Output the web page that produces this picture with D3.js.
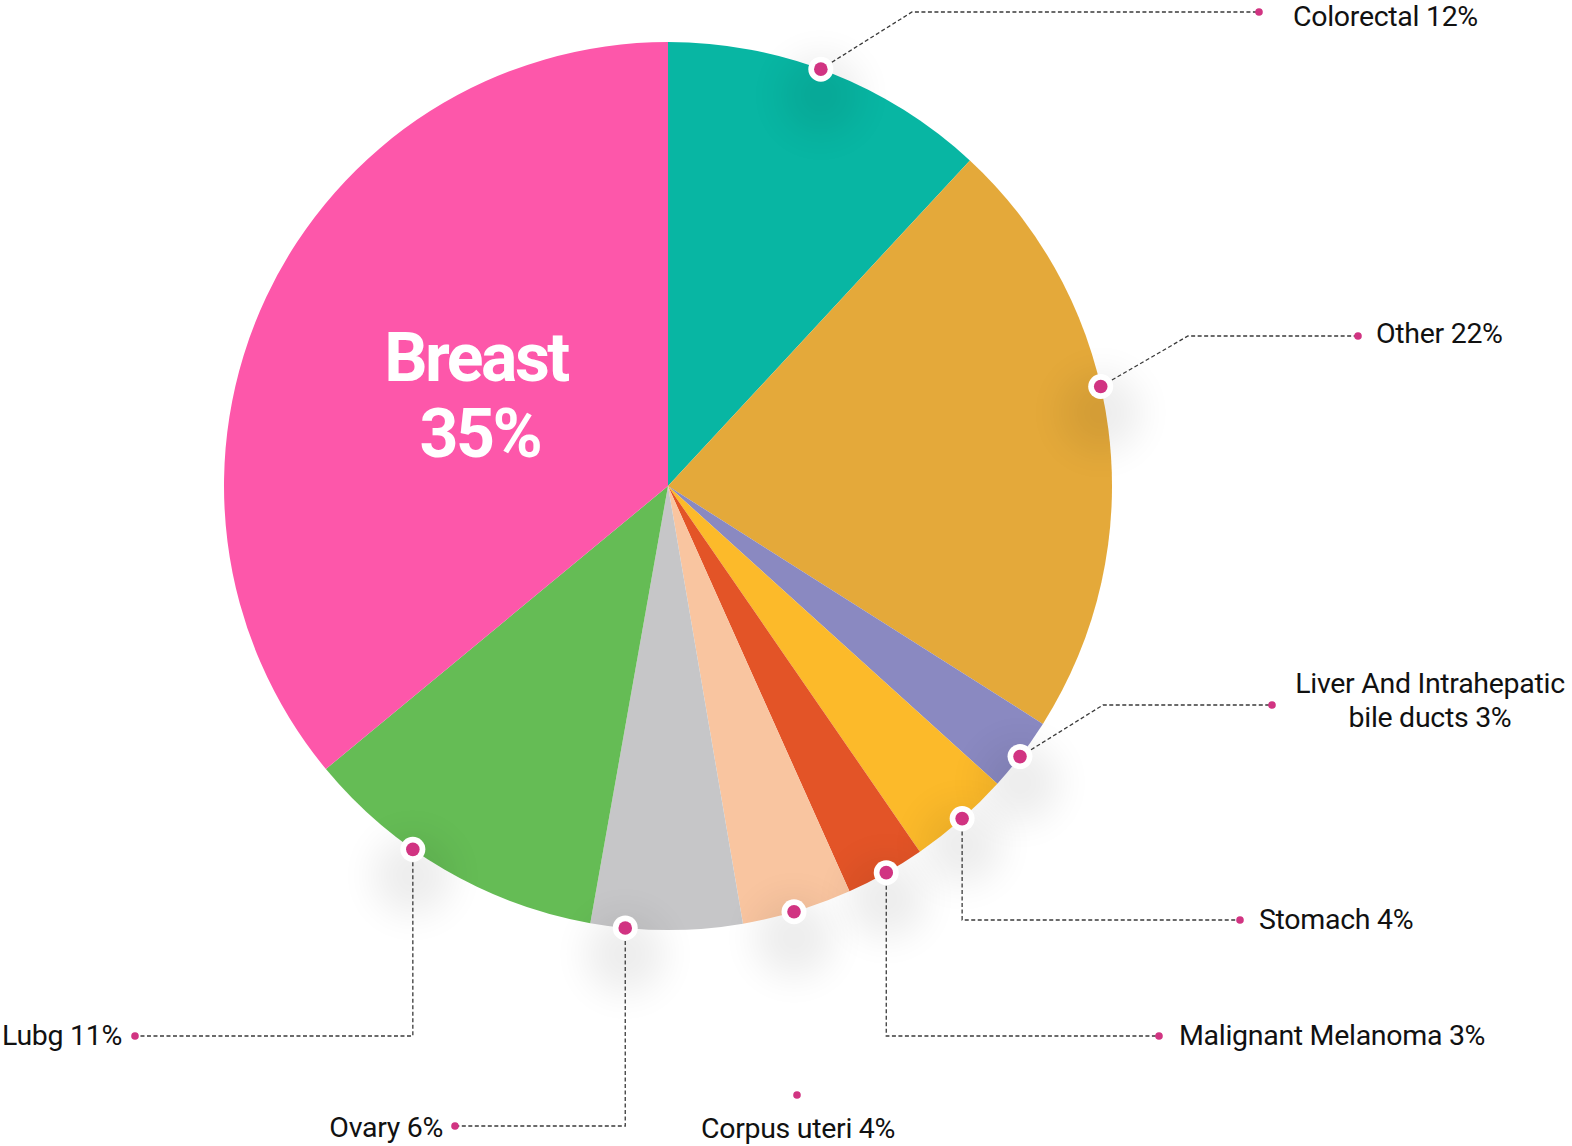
<!DOCTYPE html>
<html>
<head>
<meta charset="utf-8">
<script src="https://cdn.jsdelivr.net/npm/d3@7"></script>
<style>
  html, body { margin: 0; padding: 0; background: #ffffff; }
  svg { display: block; }
</style>
</head>
<body>
<svg id="chart" width="1572" height="1146"></svg>
<script>
// ---- data ----
const categories = ["Colorectal", "Other", "Liver And Intrahepatic bile ducts", "Stomach",
  "Malignant Melanoma", "Corpus uteri", "Ovary", "Lubg", "Breast"];
const shares = [11.9, 22.1, 2.7, 3.7, 2.9, 4.0, 5.5, 11.2, 36.0];
const percentLabels = ["12%", "22%", "3%", "4%", "3%", "4%", "6%", "11%", "35%"];
const labelLines = [
  ["Colorectal 12%"],
  ["Other 22%"],
  ["Liver And Intrahepatic", "bile ducts 3%"],
  ["Stomach 4%"],
  ["Malignant Melanoma 3%"],
  ["Corpus uteri 4%"],
  ["Ovary 6%"],
  ["Lubg 11%"],
  ["Breast", "35%"]
];
const colors = ["#08B6A3", "#E4A93A", "#8A89C1", "#FCBA2A", "#E35427",
  "#F9C5A0", "#C6C6C8", "#65BC55", "#FD57AA"];

// ---- layout (annotation placement, not data) ----
const cx = 668, cy = 486, R = 444;
const layout = [
  { frac: 0.47, elbow: [912, 12],  dot: [1259, 12],  text: [1293, 26],  anchor: "start" },
  { frac: 0.43, elbow: [1188, 336], dot: [1358, 336], text: [1376, 343], anchor: "start" },
  { frac: 0.53, elbow: [1103, 705], dot: [1272, 705], text: [1430, 693], anchor: "middle", lh: 34 },
  { frac: 0.48, elbow: "v", dot: [1240, 920], text: [1259, 929], anchor: "start" },
  { frac: 0.49, elbow: "v", dot: [1159, 1036], text: [1179, 1045], anchor: "start" },
  { frac: 0.53, elbow: "none", dot: [797, 1095], text: [798, 1138], anchor: "middle" },
  { frac: 0.77, elbow: "v", dot: [455, 1126], text: [443, 1137], anchor: "end" },
  { frac: 0.62, elbow: "v", dot: [135, 1036], text: [2, 1045], anchor: "start" },
  null
];

const rows = categories.map((c, i) => ({ name: c, value: shares[i], pct: percentLabels[i],
  lines: labelLines[i], color: colors[i], lay: layout[i] }));

const svg = d3.select("#chart");
const defs = svg.append("defs");
defs.append("filter").attr("id", "glow").attr("x", "-100%").attr("y", "-100%")
  .attr("width", "300%").attr("height", "300%")
  .append("feGaussianBlur").attr("stdDeviation", 18);

const pie = d3.pie().value(d => d.value).sort(null).startAngle(0).endAngle(2 * Math.PI);
const arcs = pie(rows);
const arc = d3.arc().innerRadius(0).outerRadius(R);

const g = svg.append("g").attr("transform", `translate(${cx},${cy})`);
g.selectAll("path.slice").data(arcs).join("path")
  .attr("class", "slice")
  .attr("d", arc)
  .attr("fill", d => d.data.color);

// marker positions on rim
const labeled = arcs.filter(d => d.data.lay);
labeled.forEach(d => {
  const a = d.startAngle + d.data.lay.frac * (d.endAngle - d.startAngle);
  d.mx = cx + R * Math.sin(a);
  d.my = cy - R * Math.cos(a);
});

// soft glows
svg.append("g").selectAll("circle").data(labeled).join("circle")
  .attr("cx", d => d.mx)
  .attr("cy", d => d.my + 26)
  .attr("r", 40)
  .attr("fill", "#000")
  .attr("opacity", 0.07)
  .attr("filter", "url(#glow)");

// connectors
const lineG = svg.append("g");
labeled.forEach(d => {
  const L = d.data.lay;
  let pts = null;
  if (L.elbow === "none") return;
  if (L.elbow === "v") pts = [[d.mx, d.my], [d.mx, L.dot[1]], L.dot];
  else pts = [[d.mx, d.my], L.elbow, L.dot];
  lineG.append("path")
    .attr("d", d3.line()(pts))
    .attr("fill", "none")
    .attr("stroke", "#3a3a3a")
    .attr("stroke-width", 1.3)
    .attr("stroke-dasharray", "4,2.5");
});

// markers
const mk = svg.append("g");
mk.selectAll("circle.outer").data(labeled).join("circle")
  .attr("class", "outer").attr("cx", d => d.mx).attr("cy", d => d.my)
  .attr("r", 12.5).attr("fill", "#ffffff");
mk.selectAll("circle.inner").data(labeled).join("circle")
  .attr("class", "inner").attr("cx", d => d.mx).attr("cy", d => d.my)
  .attr("r", 6.8).attr("fill", "#D13482");
mk.selectAll("circle.end").data(labeled).join("circle")
  .attr("class", "end").attr("cx", d => d.data.lay.dot[0]).attr("cy", d => d.data.lay.dot[1])
  .attr("r", 3.8).attr("fill", "#D13482");

// labels
const tg = svg.append("g")
  .attr("font-family", "Roboto, 'Noto Sans', sans-serif")
  .attr("font-size", 28.5)
  .attr("fill", "#111111");
labeled.forEach(d => {
  const L = d.data.lay;
  const t = tg.append("text")
    .attr("x", L.text[0]).attr("y", L.text[1])
    .attr("text-anchor", L.anchor)
    .attr("letter-spacing", "-0.3px");
  d.data.lines.forEach((ln, i) => {
    t.append("tspan").attr("x", L.text[0]).attr("dy", i === 0 ? 0 : (L.lh || 34)).text(ln);
  });
});

// inner big label for the largest slice
const big = arcs.find(d => !d.data.lay);
const bt = svg.append("text")
  .attr("font-family", "Roboto, 'Noto Sans', sans-serif")
  .attr("font-weight", 700)
  .attr("font-size", 68)
  .attr("letter-spacing", "-2.5px")
  .attr("fill", "#ffffff")
  .attr("text-anchor", "middle");
bt.append("tspan").attr("x", 476).attr("y", 381).text(big.data.lines[0]);
bt.append("tspan").attr("x", 480).attr("y", 457).text(big.data.lines[1]);
</script>
</body>
</html>
